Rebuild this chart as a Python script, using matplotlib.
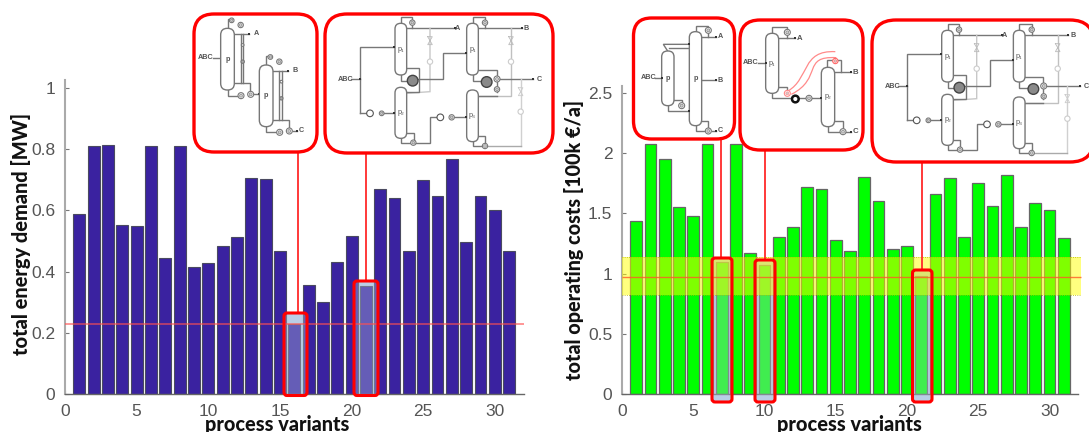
import matplotlib
matplotlib.use("Agg")
import matplotlib.pyplot as plt
from matplotlib.patches import FancyBboxPatch, Circle, PathPatch
from matplotlib.path import Path

# ---------- data ----------
variants = list(range(1, 32))
energy_demand = [0.588, 0.81, 0.815, 0.553, 0.548, 0.81, 0.445, 0.81, 0.414, 0.427,
                 0.483, 0.513, 0.707, 0.703, 0.466, 0.23, 0.357, 0.30, 0.43, 0.515,
                 0.352, 0.671, 0.639, 0.467, 0.70, 0.647, 0.767, 0.497, 0.647, 0.60, 0.467]
operating_costs = [1.44, 2.08, 1.955, 1.553, 1.476, 2.08, 1.10, 2.08, 1.17, 1.075,
                   1.30, 1.387, 1.72, 1.705, 1.28, 1.188, 1.80, 1.606, 1.204, 1.232,
                   0.977, 1.66, 1.794, 1.304, 1.75, 1.56, 1.816, 1.39, 1.586, 1.528, 1.296]
energy_ref = 0.23
cost_ref = 0.975
cost_band = (0.82, 1.14)
x_ticks = [0, 5, 10, 15, 20, 25, 30]
energy_ticks = [0, 0.2, 0.4, 0.6, 0.8, 1]
energy_ticklabels = ["0", "0.2", "0.4", "0.6", "0.8", "1"]
cost_ticks = [0, 0.5, 1, 1.5, 2, 2.5]
cost_ticklabels = ["0", "0.5", "1", "1.5", "2", "2.5"]

W, H = 1089, 432
plt.rcParams['font.family'] = ['Liberation Sans', 'DejaVu Sans']
fig = plt.figure(figsize=(W / 100, H / 100), dpi=100)


def make_axes(x0, x1, ytop, ybot):
    return fig.add_axes([x0 / W, 1 - ybot / H, (x1 - x0) / W, (ybot - ytop) / H])


axL = make_axes(65, 523.5, 80, 394)
axR = make_axes(622, 1078, 86, 394)
ov = fig.add_axes([0, 0, 1, 1], zorder=5)
ov.set_xlim(0, W)
ov.set_ylim(H, 0)
ov.axis("off")
ov.patch.set_alpha(0)


def style(ax, ymax, ticks, labels):
    ax.set_xlim(0, 32)
    ax.set_ylim(0, ymax)
    ax.set_xticks(x_ticks)
    ax.set_yticks(ticks, labels)
    ax.tick_params(direction="in", length=3, width=0.8, color="#777", labelcolor="#555",
                   labelsize=12.5, pad=7)
    for s in ("top", "right"):
        ax.spines[s].set_visible(False)
    ax.spines["left"].set_color("#aaa")
    ax.spines["left"].set_linewidth(1.5)
    ax.spines["bottom"].set_color("#666")
    ax.spines["bottom"].set_linewidth(1.0)
    ax.patch.set_alpha(0)


style(axL, 1.026, energy_ticks, energy_ticklabels)
style(axR, 2.558, cost_ticks, cost_ticklabels)

axL.bar(variants, energy_demand, width=0.83, color="#3a22a0", edgecolor="#4a4a60",
        linewidth=0.8, zorder=2)
axR.bar(variants, operating_costs, width=0.83, color="#00ff00", edgecolor="#666",
        linewidth=0.9, zorder=2)

axL.axhline(energy_ref, color="#ff5050", alpha=0.6, lw=1.4, zorder=4)
band_end = (1081 - 622) / 14.25
axR.axhspan(cost_band[0], cost_band[1], xmin=0, xmax=(1081 - 622) / (1078 - 622),
            color="#ffff00", alpha=0.5, lw=0, zorder=4, clip_on=False)
axR.hlines(cost_band, 0, band_end, color="#b5b500", lw=0.6, linestyle=":", zorder=4, clip_on=False)
axR.hlines(cost_ref, 0, band_end, color="#ff5a28", alpha=0.8, lw=1.0, zorder=5, clip_on=False)


def rbox(ax, x0, y0, x1, y1, r, **kw):
    p = FancyBboxPatch((x0, y0), x1 - x0, y1 - y0,
                       boxstyle=f"round,pad=0,rounding_size={r}",
                       transform=ov.transData, clip_on=False, **kw)
    ax.add_patch(p)


def highlight(ax, x0, y0, x1, y1):
    rbox(ax, x0, y0, x1, y1, 3, fc="#bcd0e8", ec="none", zorder=1)
    rbox(ax, x0, y0, x1, y1, 3, fc="#b8cce4", ec="none", alpha=0.35, zorder=3)
    rbox(ov, x0, y0, x1, y1, 3, fc="none", ec="#ff0000", lw=2.2, zorder=6)


highlight(axL, 284, 313, 307, 395.5)
highlight(axL, 354, 281, 378, 395.5)
highlight(axR, 712, 258, 732, 402)
highlight(axR, 755, 260, 775, 402)
highlight(axR, 912.5, 270, 932, 402)

# connectors and callout frames
for x, y0, y1 in [(298, 152, 313), (366, 153, 281), (721, 139, 258), (765, 150, 260), (922, 162, 270)]:
    ov.plot([x, x], [y0, y1], color="#ff2a2a", lw=1.3, zorder=5)
for x0, y0, x1, y1, r in [(194, 14, 317, 152, 20), (325, 14, 553, 153, 22),
                          (633.5, 18, 734.5, 139, 18), (740, 20, 863, 150, 20),
                          (872, 20, 1094, 162, 24)]:
    rbox(ov, x0, y0, x1, y1, r, fc="white", ec="#ff0000", lw=2.4, zorder=5)


class Sketch:
    """Draws a flowsheet given in 3x crop coordinates."""

    def __init__(self, ox, oy):
        self.ox, self.oy = ox, oy

    def p(self, x, y):
        return self.ox + x / 3, self.oy + y / 3

    def line(self, pts, c="#777777", lw=1.0, end=False):
        q = [self.p(*a) for a in pts]
        ov.plot([a[0] for a in q], [a[1] for a in q], color=c, lw=lw, zorder=7,
                solid_joinstyle="miter")
        if end:
            ov.plot(*q[-1], marker="s", ms=1.8, color="#333", mew=0, zorder=8)

    def col(self, x0, y0, x1, y1, label=None):
        a, b = self.p(x0, y0), self.p(x1, y1)
        w, h = b[0] - a[0], b[1] - a[1]
        ov.add_patch(FancyBboxPatch(a, w, h, boxstyle=f"round,pad=0,rounding_size={w / 2 - 0.2}",
                                    fc="white", ec="#777", lw=1.0, zorder=8))
        if label:
            self.text((x0 + x1) / 2, (y0 + y1) / 2, label)

    def circ(self, x, y, r=8, ec="#777", fc="white", lw=0.8, gear=True):
        ov.add_patch(Circle(self.p(x, y), r / 3, fc=fc, ec=ec, lw=lw, zorder=9))
        if gear and fc == "white" and r < 10:
            ov.add_patch(Circle(self.p(x, y), r / 6, fc="#ccc", ec=ec, lw=0.4, zorder=9))

    def valve(self, x, y, c="#999"):
        self.line([(x - 7, y - 12), (x + 7, y - 12), (x - 7, y + 12), (x + 7, y + 12), (x - 7, y - 12)], c=c, lw=0.6)

    def text(self, x, y, s, size=5.2, c="#555"):
        a = self.p(x, y)
        ov.text(a[0], a[1], s, fontsize=size, color=c, ha="center", va="center", zorder=10,
                fontweight="bold" if len(s) == 1 or s == "ABC" else "normal")


def unit(s, dx, dy, top):
    s.col(92 + dx, 70 + dy, 133 + dx, 255 + dy, "p")
    s.line([(113 + dx, 70 + dy), (113 + dx, 42 + dy), (125 + dx, 42 + dy)])
    s.circ(125 + dx, 46 + dy, 7)
    s.circ(152 + dx, 60 + dy, 8)
    s.line([(133 + dx, 88 + dy), (178 + dx, 88 + dy)], end=True)
    s.text(200 + dx, 85 + dy, top)
    s.line([(152 + dx, 88 + dy), (152 + dx, 235 + dy)])
    s.line([(160 + dx, 88 + dy), (160 + dx, 235 + dy)])
    s.circ(158 + dx, 120 + dy, 4, gear=False)
    s.circ(158 + dx, 170 + dy, 5, fc="#aaa")
    s.line([(133 + dx, 235 + dy), (180 + dx, 235 + dy), (180 + dx, 262 + dy)])
    s.line([(113 + dx, 255 + dy), (113 + dx, 272 + dy), (153 + dx, 272 + dy)])
    s.circ(153 + dx, 272 + dy, 9)
    s.circ(182 + dx, 268 + dy, 9)


# first inset
s1 = Sketch(190, 5)
s1.text(48, 158, "ABC")
s1.line([(68, 158), (92, 158)], end=True)
unit(s1, 0, 0, "A")
s1.line([(192, 268), (208, 268)], end=True)
unit(s1, 116, 110, "B")
s1.line([(308, 378), (322, 378)], end=True)
s1.text(335, 377, "C")


def four_columns(s):
    s.col(210, 40, 245, 195, "p₁")
    s.col(210, 232, 245, 385, "p₂")
    s.col(425, 40, 460, 195, "p₁")
    s.col(425, 240, 460, 395, "p₃")
    s.text(62, 208, "ABC")
    s.line([(78, 208), (105, 208)], end=True)
    s.line([(105, 310), (105, 112), (208, 112)], end=True)
    s.line([(105, 310), (125, 310)])
    s.circ(135, 310, 10, ec="#555", gear=False)
    s.circ(170, 310, 7)
    s.line([(178, 310), (208, 310)], end=True)
    s.line([(228, 40), (228, 22), (262, 22), (262, 55)])
    s.circ(262, 38, 8)
    s.line([(245, 55), (390, 55)], end=True)
    s.text(398, 55, "A")
    s.line([(315, 55), (315, 245), (245, 250)], c="#c8c8c8")
    s.valve(315, 92, "#bbb")
    s.circ(315, 155, 8, ec="#ccc", gear=False)
    s.line([(245, 175), (283, 175), (283, 245), (245, 245)])
    s.line([(228, 195), (228, 212), (250, 212)])
    s.circ(263, 212, 16, ec="#444", fc="#8a8a8a", lw=1.0)
    s.line([(278, 208), (355, 208), (355, 130), (423, 130)], end=True)
    s.line([(245, 368), (266, 368), (266, 398)])
    s.line([(228, 385), (228, 398), (315, 398), (315, 322), (335, 322)])
    s.circ(265, 398, 8)
    s.circ(346, 322, 10, ec="#555", gear=False)
    s.circ(380, 322, 8)
    s.line([(388, 322), (423, 322)], end=True)
    s.line([(443, 40), (443, 22), (480, 22), (480, 55)])
    s.circ(480, 38, 8)
    s.line([(460, 55), (590, 55)], end=True)
    s.text(604, 55, "B")
    s.line([(558, 55), (558, 258), (460, 258)], c="#c0c0c0")
    s.line([(460, 258), (515, 258)])
    s.valve(558, 92, "#bbb")
    s.circ(558, 155, 8, ec="#ccc", gear=False)
    s.line([(460, 180), (515, 180), (515, 245)])
    s.line([(443, 195), (443, 212), (470, 212)])
    s.circ(485, 216, 16, ec="#444", fc="#8a8a8a", lw=1.0)
    s.circ(516, 207, 9)
    s.circ(516, 238, 8)
    s.line([(526, 208), (625, 208)], end=True)
    s.text(644, 208, "C")
    s.line([(587, 208), (587, 408)], c="#d0d0d0")
    s.valve(587, 245, "#ccc")
    s.circ(587, 305, 8, ec="#ccc", gear=False)
    s.line([(460, 378), (480, 378), (480, 408)])
    s.line([(443, 395), (443, 408), (480, 408)])
    s.line([(480, 408), (587, 408)], c="#aaa")
    s.circ(480, 408, 8)


four_columns(Sketch(325, 10))
four_columns(Sketch(871.7, 17))

# inset over variant 7
a = Sketch(630, 15)
a.col(95, 108, 132, 272, "p")
a.col(178, 50, 215, 332, "p")
a.text(55, 188, "ABC")
a.line([(75, 188), (95, 188)], end=True)
a.line([(113, 108), (100, 88), (176, 88)], end=True)
a.line([(118, 100), (176, 100)])
a.line([(132, 255), (155, 255), (155, 265)])
a.line([(113, 272), (113, 288), (176, 288)], end=True)
a.circ(155, 272, 9)
a.line([(197, 50), (197, 32), (235, 32), (235, 65)])
a.circ(235, 46, 9)
a.line([(215, 65), (258, 65)], end=True)
a.text(270, 65, "A")
a.line([(215, 195), (258, 195)], end=True)
a.text(270, 195, "B")
a.line([(215, 318), (235, 318), (235, 340)])
a.line([(197, 332), (197, 348), (225, 348)])
a.circ(235, 348, 9)
a.line([(245, 348), (258, 348)], end=True)
a.text(270, 348, "C")

# inset over variant 10
b = Sketch(738, 15)
b.col(83, 55, 122, 235, "p₁")
b.col(250, 157, 290, 335, "p₂")
b.text(38, 143, "ABC")
b.line([(60, 143), (83, 143)], end=True)
b.line([(103, 55), (103, 35), (148, 35), (148, 70)])
b.circ(148, 52, 9)
b.line([(122, 70), (172, 70)], end=True)
b.text(186, 70, "A", size=5.6)
b.line([(122, 215), (148, 215), (148, 228)])
b.line([(103, 235), (103, 250), (160, 250)])
b.circ(148, 235, 9, ec="#f88")
b.circ(172, 252, 10, ec="#111", lw=1.8, gear=False)
b.line([(184, 250), (250, 250)], end=True)
b.circ(213, 250, 9)
b.line([(268, 157), (268, 135), (310, 135), (310, 172)])
b.line([(290, 172), (340, 172)], end=True)
b.text(351, 172, "B", size=5.6)
b.circ(292, 138, 8, ec="#f66")
b.line([(290, 318), (315, 318), (315, 340)])
b.line([(270, 335), (270, 352), (305, 352)])
b.circ(315, 350, 9)
b.line([(325, 350), (340, 350)], end=True)
b.text(351, 350, "C", size=5.6)
for pts in ([(150, 228), (215, 190), (190, 105), (292, 110)], [(160, 238), (255, 190), (190, 122), (295, 128)]):
    verts = [b.p(*q) for q in pts]
    ov.add_patch(PathPatch(Path(verts, [Path.MOVETO, Path.CURVE4, Path.CURVE4, Path.CURVE4]),
                           fc="none", ec="#ff8a8a", lw=0.9, zorder=7))

# axis titles, each scaled to the extent it has in the reference
title_kw = dict(fontweight=900, color="#111", family=["Lato", "DejaVu Sans"], zorder=10, fontsize=14)
renderer = fig.canvas.get_renderer()


def fit(t, length, vertical):
    e = t.get_window_extent(renderer)
    t.set_fontsize(t.get_fontsize() * length / (e.height if vertical else e.width))


fit(ov.text(21, 233.5, "total energy demand [MW]", rotation=90, ha="center", va="center", **title_kw), 243, True)
fit(ov.text(574, 239.5, "total operating costs [100k €/a]", rotation=90, ha="center", va="center", **title_kw), 281, True)
fit(ov.text(277.5, 431, "process variants", ha="center", va="baseline", **title_kw), 145, False)
fit(ov.text(849, 431, "process variants", ha="center", va="baseline", **title_kw), 146, False)

fig.savefig("out.png", dpi=100)
